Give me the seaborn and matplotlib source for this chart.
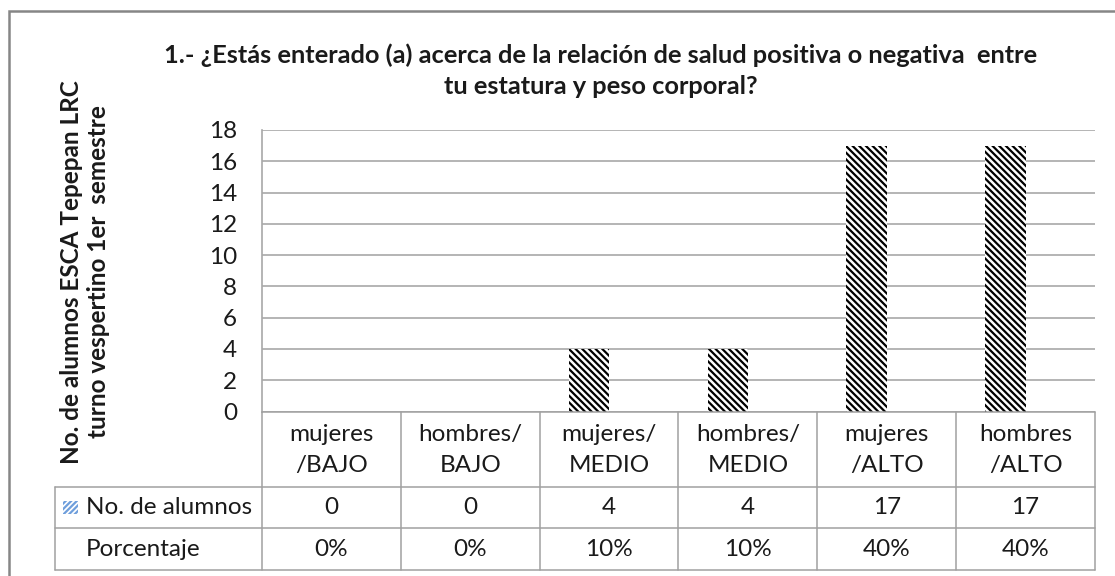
import matplotlib
matplotlib.use("Agg")
import matplotlib.pyplot as plt
import matplotlib.transforms as mtransforms
from matplotlib.patches import Rectangle
from matplotlib.lines import Line2D
import seaborn as sns
import pandas as pd

# ---- data ----
categorias = ['mujeres /BAJO', 'hombres/ BAJO', 'mujeres/ MEDIO',
              'hombres/ MEDIO', 'mujeres /ALTO', 'hombres /ALTO']
alumnos = [0, 0, 4, 4, 17, 17]
porcentaje = [0.0, 0.0, 0.10, 0.10, 0.40, 0.40]
porcentaje_txt = ['0%', '0%', '10%', '10%', '40%', '40%']
series = ['No. de alumnos', 'Porcentaje']
yticks = [0, 2, 4, 6, 8, 10, 12, 14, 16, 18]
titulo = ('1.- ¿Estás enterado (a) acerca de la relación de salud positiva o negativa  entre\n'
          'tu estatura y peso corporal?')
ylabel = 'No. de alumnos ESCA Tepepan LRC\nturno vespertino 1er  semestre'

sns.set_style('white')
plt.rcParams['font.family'] = ['Lato', 'DejaVu Sans']
plt.rcParams['hatch.linewidth'] = 1.6

W, H = 1115, 576
fig = plt.figure(figsize=(W / 100, H / 100), dpi=100)

def fx(px):
    return px / W

def fy(py):
    return 1 - py / H

FS = 17.5
ax_left, ax_right, ax_top, ax_bot = 262, 1095, 130, 411.5
ax = fig.add_axes([fx(ax_left), fy(ax_bot), fx(ax_right - ax_left), fy(ax_top) - fy(ax_bot)])

df = pd.DataFrame({
    'categoria': categorias * 2,
    'serie': [series[0]] * len(categorias) + [series[1]] * len(categorias),
    'valor': alumnos + porcentaje,
})
sns.barplot(data=df, x='categoria', y='valor', hue='serie', hue_order=series,
            order=categorias, width=0.58, dodge=True, ax=ax, legend=False,
            palette=['white', 'white'], errorbar=None)

for bar in ax.containers[0]:
    bar.set_facecolor('white')
    bar.set_edgecolor('black')
    bar.set_hatch('\\\\\\\\\\')
    bar.set_linewidth(0)
for bar in ax.containers[1]:
    bar.set_visible(False)

ax.set_ylim(0, 18)
ax.set_xlim(-0.5, len(categorias) - 0.5)
ax.set_yticks(yticks)
ax.set_yticklabels([str(t) for t in yticks])
ax.tick_params(axis='y', length=0, pad=18, labelsize=FS, labelcolor='#1a1a1a')
ax.set_xticks([])
ax.set_xlabel('')
ax.set_ylabel('')
ax.grid(axis='y', color='#a8a8a8', linewidth=1.2)
ax.set_axisbelow(True)
for s in ['top', 'right', 'bottom']:
    ax.spines[s].set_visible(False)
ax.spines['left'].set_color('#a8a8a8')
ax.spines['left'].set_linewidth(1.2)

# ---- data table below the axes (x in data units, y in figure coords) ----
trans = mtransforms.blended_transform_factory(ax.transData, fig.transFigure)
row_y = [fy(412), fy(487), fy(528), fy(570)]
n = len(categorias)
x_hdr = -0.5 - (ax_left - 55) / ((ax_right - ax_left) / n)
lc = '#a0a0a0'
lw = 1.1

def hline(x0, x1, y):
    fig.add_artist(Line2D([x0, x1], [y, y], transform=trans, color=lc, lw=lw))

def vline(x, y0, y1):
    fig.add_artist(Line2D([x, x], [y0, y1], transform=trans, color=lc, lw=lw))

hline(-0.5, n - 0.5, row_y[0])
for y in row_y[1:]:
    hline(x_hdr, n - 0.5, y)
for i in range(n + 1):
    vline(i - 0.5, row_y[0], row_y[3])
vline(x_hdr, row_y[1], row_y[3])

tc = '#1a1a1a'
for i, cat in enumerate(categorias):
    fig.text(i, fy(450), cat.replace(' ', '\n'), transform=trans,
             ha='center', va='center', fontsize=FS, color=tc, linespacing=1.55)
    fig.text(i, (row_y[1] + row_y[2]) / 2, str(alumnos[i]), transform=trans,
             ha='center', va='center', fontsize=FS, color=tc)
    fig.text(i, (row_y[2] + row_y[3]) / 2, porcentaje_txt[i], transform=trans,
             ha='center', va='center', fontsize=FS, color=tc)

fig.text(fx(86), (row_y[1] + row_y[2]) / 2, series[0], ha='left', va='center',
         fontsize=FS, color=tc)
fig.text(fx(86), (row_y[2] + row_y[3]) / 2, series[1], ha='left', va='center',
         fontsize=FS, color=tc)
key = Rectangle((fx(63), fy(514)), fx(15), fy(501) - fy(514), transform=fig.transFigure,
                facecolor='white', edgecolor='#6f9fdc', hatch='//////', linewidth=0)
fig.add_artist(key)

# ---- titles ----
fig.text(fx(601), fy(71), titulo, ha='center', va='center', fontsize=18.3,
         fontweight='bold', color=tc, linespacing=1.42)
fig.text(fx(85), fy(272), ylabel, ha='center', va='center', rotation=90,
         fontsize=FS, fontweight='bold', color=tc, linespacing=1.2,
         multialignment='center')

# ---- chart area border ----
fig.add_artist(Rectangle((fx(9), fy(600)), fx(1200), fy(11) - fy(600),
                         transform=fig.transFigure, fill=False,
                         edgecolor='#868686', linewidth=1.8))

fig.savefig('out.png', dpi=100)
